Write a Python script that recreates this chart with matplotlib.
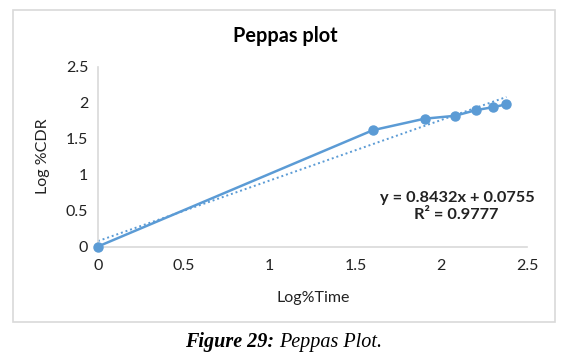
import matplotlib
matplotlib.use("Agg")
import matplotlib.pyplot as plt
from matplotlib.patches import Rectangle
import numpy as np

# Data (log time vs log %CDR)
log_time = [0, 1.602, 1.903, 2.079, 2.204, 2.301, 2.380]
log_cdr = [0, 1.62, 1.78, 1.82, 1.90, 1.94, 1.98]
slope = 0.8432
intercept = 0.0755
r_squared = 0.9777

x_ticks = [0, 0.5, 1, 1.5, 2, 2.5]
y_ticks = [0, 0.5, 1, 1.5, 2, 2.5]

blue = "#5b9bd5"
grey = "#d9d9d9"
font = "Lato"

W, H = 566, 358
fig = plt.figure(figsize=(W / 100, H / 100), dpi=100)

# chart border
fig.patches.append(Rectangle((13 / W, 1 - 322 / H), (555 - 13) / W, (322 - 10) / H,
                             transform=fig.transFigure, fill=False, edgecolor=grey, linewidth=1.2))

ax = fig.add_axes([98 / W, 1 - 246.5 / H, (527 - 98) / W, (246.5 - 67) / H])
ax.plot(log_time, log_cdr, color=blue, linewidth=1.8, marker="o", markersize=6.5, zorder=3)

xt = np.array([log_time[0], log_time[-1]])
ax.plot(xt, slope * xt + intercept, color=blue, linewidth=1.4, linestyle=(0, (1, 1.5)), zorder=2)

ax.set_xlim(0, 2.5)
ax.set_ylim(0, 2.5)
ax.set_xticks(x_ticks)
ax.set_yticks(y_ticks)
ax.set_xticklabels([f"{v:g}" for v in x_ticks], fontfamily=font, fontsize=11.5, color="#222222")
ax.set_yticklabels([f"{v:g}" for v in y_ticks], fontfamily=font, fontsize=11.5, color="#222222")
ax.tick_params(length=0, pad=9)
ax.tick_params(axis="y", pad=7)
for s in ["top", "right"]:
    ax.spines[s].set_visible(False)
for s in ["left", "bottom"]:
    ax.spines[s].set_color(grey)
    ax.spines[s].set_linewidth(1.2)
for ln in ax.lines:
    ln.set_clip_on(False)

fig.text(285 / W, 1 - 36 / H, "Peppas plot", ha="center", va="center",
         fontfamily=font, fontweight="bold", fontsize=14.3)
fig.text(313 / W, 1 - 298 / H, "Log%Time", ha="center", va="center",
         fontfamily=font, fontsize=11.5, color="#222222")
fig.text(43 / W, 1 - 156 / H, "Log %CDR", ha="center", va="center", rotation=90,
         fontfamily=font, fontsize=11.5, color="#222222")

fig.text(535 / W, 1 - 198 / H, f"y = {slope}x + {intercept}", ha="right", va="center",
         fontfamily=font, fontweight="bold", fontsize=11.8, color="#222222")
fig.text(456 / W, 1 - 215 / H, f"R² = {r_squared}", ha="center", va="center",
         fontfamily=font, fontweight="bold", fontsize=11.8, color="#222222")

# caption below the chart
fig.canvas.draw()
r = fig.canvas.get_renderer()
t1 = fig.text(185 / W, 1 - 342 / H, "Figure 29:", ha="left", va="center",
              fontfamily="Liberation Serif", fontweight="bold", fontstyle="italic", fontsize=14.5)
bb = t1.get_window_extent(renderer=r)
fig.text((bb.x1 + 5) / W, 1 - 342 / H, "Peppas Plot.", ha="left", va="center",
         fontfamily="Liberation Serif", fontstyle="italic", fontsize=14.5)

fig.savefig("out.png", dpi=100)
